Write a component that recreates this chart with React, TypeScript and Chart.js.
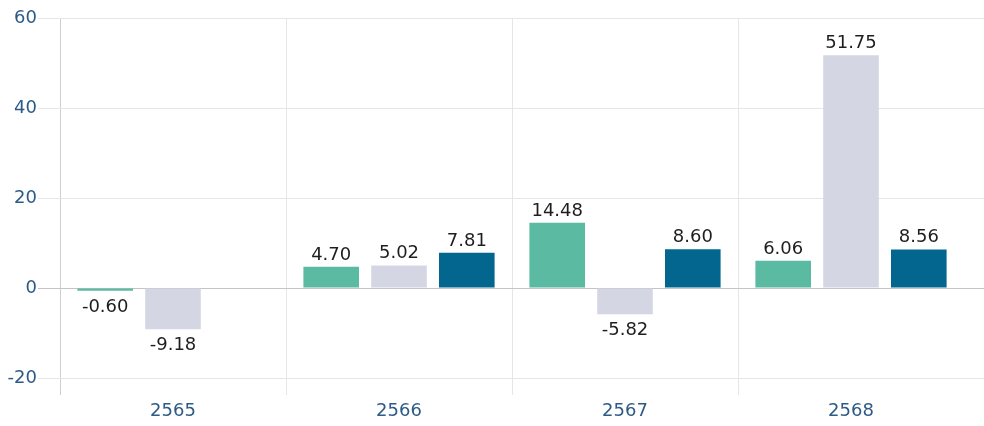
import React, { useEffect, useRef } from "react";
import { Chart, registerables } from "chart.js";
Chart.register(...registerables);

const categories = ["2565", "2566", "2567", "2568"];
const seriesA = [-0.6, 4.7, 14.48, 6.06];
const seriesB = [-9.18, 5.02, -5.82, 51.75];
const seriesC = [null, 7.81, 8.6, 8.56];
const yTicks = [-20, 0, 20, 40, 60];

const FONT = "'DejaVu Sans', sans-serif";

const labelPlugin = {
  id: "valueLabels",
  afterDatasetsDraw(chart: any) {
    const ctx = chart.ctx;
    ctx.save();
    ctx.font = `18px ${FONT}`;
    ctx.fillStyle = "#1e1e1e";
    ctx.textAlign = "center";
    ctx.textBaseline = "alphabetic";
    chart.data.datasets.forEach((ds: any, di: number) => {
      const meta = chart.getDatasetMeta(di);
      meta.data.forEach((bar: any, i: number) => {
        const v = ds.data[i];
        if (v === null || v === undefined) return;
        if (v >= 0) {
          ctx.fillText(v.toFixed(2), bar.x, bar.y - 7);
        } else {
          ctx.fillText(v.toFixed(2), bar.x, bar.y + 21);
        }
      });
    });
    ctx.restore();
  },
};

const extendGrid = {
  id: "extendGrid",
  beforeDatasetsDraw(chart: any) {
    const ctx = chart.ctx;
    const ys = chart.scales.y;
    ctx.save();
    ctx.lineWidth = 1;
    ys.ticks.forEach((t: any) => {
      const y = Math.round(ys.getPixelForValue(t.value)) + 0.5;
      ctx.strokeStyle = t.value === 0 ? "#c4c4c4" : "#e6e6e6";
      ctx.beginPath();
      ctx.moveTo(chart.chartArea.right, y);
      ctx.lineTo(chart.width, y);
      ctx.stroke();
    });
    ctx.restore();
  },
};

export default function App() {
  const ref = useRef<HTMLCanvasElement>(null);
  useEffect(() => {
    if (!ref.current) return;
    const chart = new Chart(ref.current, {
      type: "bar",
      data: {
        labels: categories,
        datasets: [
          { data: seriesA, backgroundColor: "#5bbba2" },
          { data: seriesB, backgroundColor: "#d4d7e3" },
          { data: seriesC as any, backgroundColor: "#02668f" },
        ],
      },
      options: {
        animation: false,
        responsive: false,
        maintainAspectRatio: false,
        layout: { padding: { top: 18, right: 20, left: 0, bottom: 0 } },
        datasets: { bar: { categoryPercentage: 0.9, barPercentage: 0.82 } },
        plugins: { legend: { display: false }, tooltip: { enabled: false } },
        scales: {
          x: {
            offset: true,
            grid: {
              offset: true,
              tickLength: 17,
              color: (c: any) =>
                c.index === undefined || c.index >= 4 ? "rgba(0,0,0,0)" : c.index === 0 ? "#cfcfcf" : "#e6e6e6",
            },
            border: { display: false },
            ticks: { color: "#2d5b87", font: { family: FONT, size: 18 }, padding: 6 },
            afterFit: (s: any) => { s.height = 48; },
          },
          y: {
            min: -20,
            max: 60,
            afterBuildTicks: (s: any) => { s.ticks = yTicks.map((v) => ({ value: v })); },
            grid: {
              tickLength: 22,
              color: (c: any) => (c.tick && c.tick.value === 0 ? "#c4c4c4" : "#e6e6e6"),
            },
            border: { display: false },
            ticks: { color: "#2d5b87", font: { family: FONT, size: 18 }, padding: 1 },
            afterFit: (s: any) => { s.width = 60; },
          },
        },
      },
      plugins: [labelPlugin, extendGrid],
    });
    return () => chart.destroy();
  }, []);
  return (
    <div style={{ position: "fixed", left: 0, top: 0, width: 984, height: 426, background: "#fff" }}>
      <canvas ref={ref} width={984} height={426} />
    </div>
  );
}
